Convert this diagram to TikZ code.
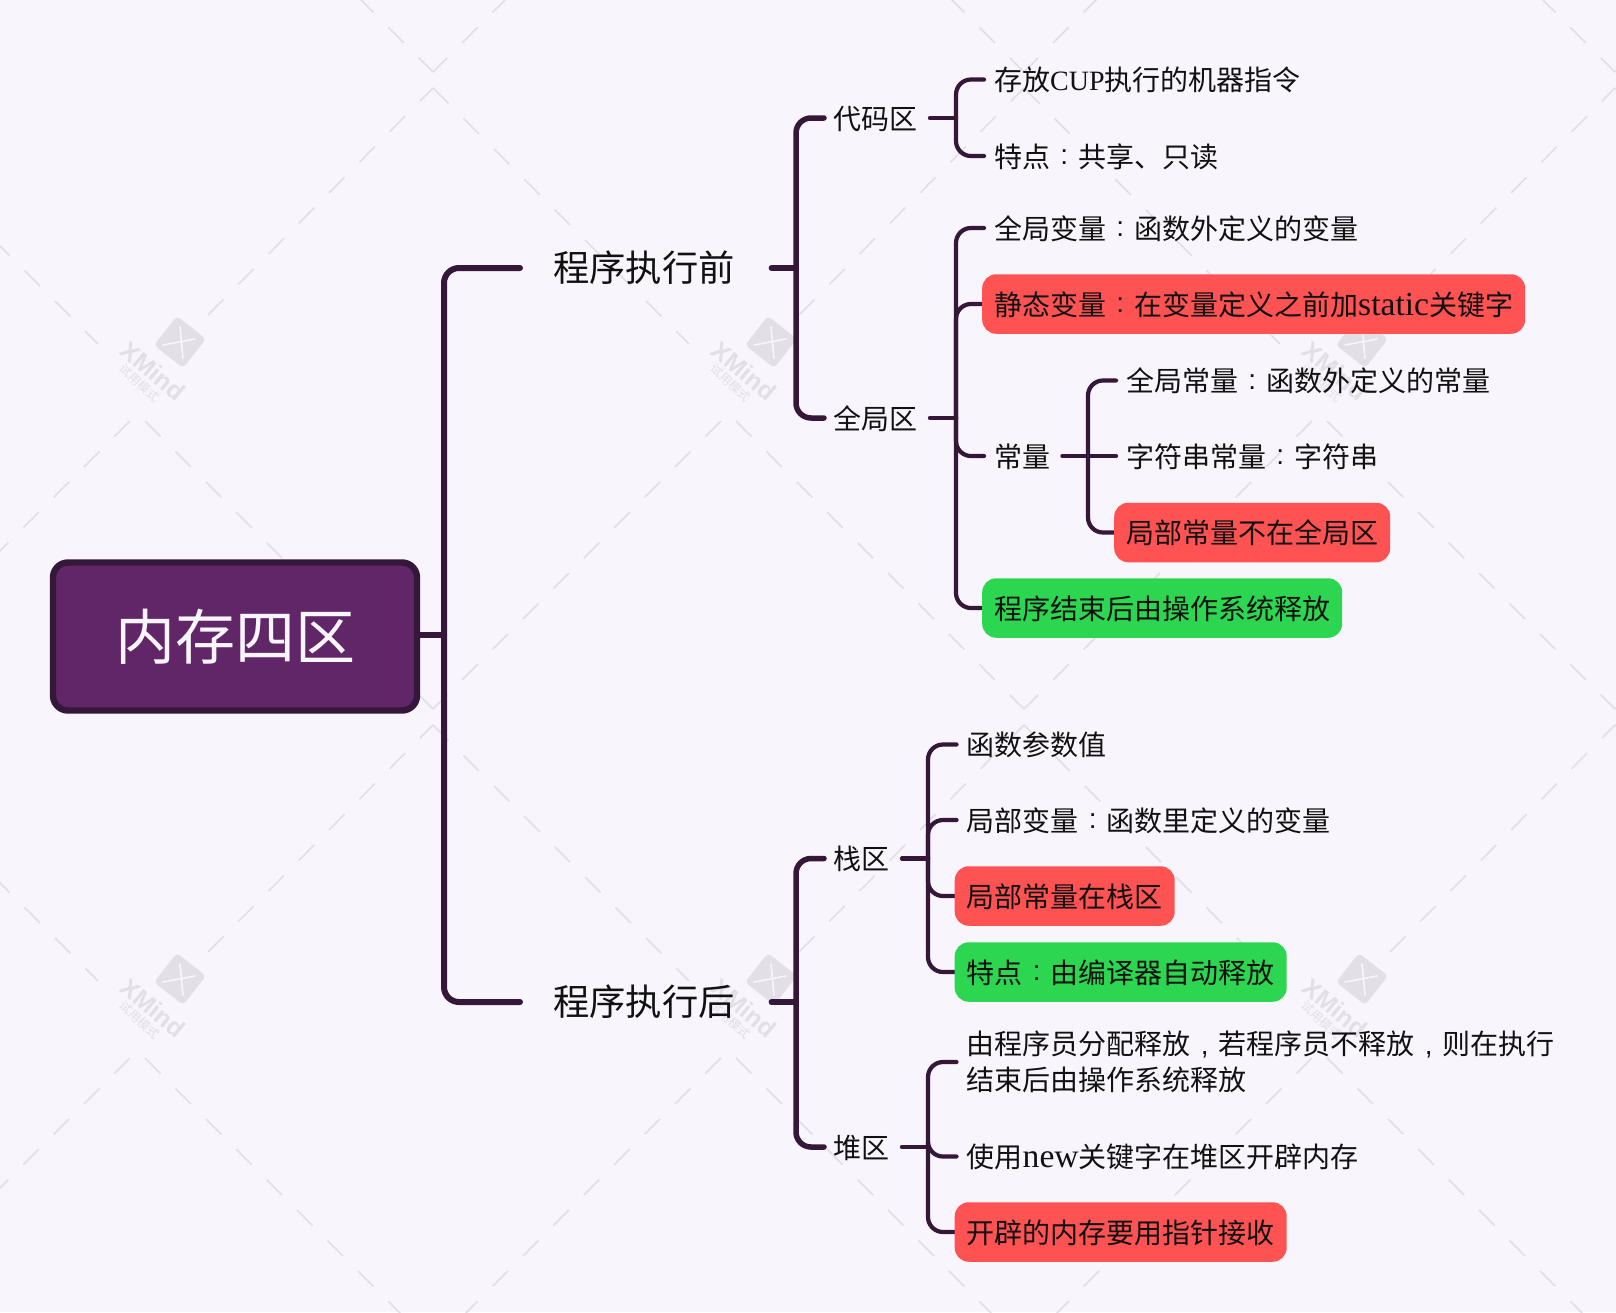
\documentclass[tikz,border=0pt]{standalone}
\usepackage{fontspec}
\setmainfont{Noto Sans CJK SC}
\newfontfamily\latserif{Liberation Serif}
\newfontfamily\wmsans{Liberation Sans}
\newcommand{\cc}{\makebox[1em][c]{\raisebox{.1em}{\wmsans :}}}
\newcommand{\cm}{\makebox[1em][c]{\wmsans ,}}
\newcommand{\lowlat}[1]{{\latserif\fontsize{33.6}{36}\selectfont #1}}
\newcommand{\uplat}[1]{{\latserif #1}}
\definecolor{bgc}{HTML}{F9F5FC}
\definecolor{wmc}{HTML}{E3DFE6}
\definecolor{linec}{HTML}{35173A}
\definecolor{rootc}{HTML}{612667}
\definecolor{redc}{HTML}{FF5252}
\definecolor{greenc}{HTML}{2DD650}
\definecolor{txtc}{HTML}{111111}
\pgfdeclarelayer{background}
\pgfsetlayers{background,main}
\tikzset{
 wmdash/.style={draw=wmc,line width=1.6pt,dash pattern=on 22pt off 21pt},
 l1/.style={draw=linec,line width=6pt,line cap=round,rounded corners=15pt},
 l2/.style={draw=linec,line width=5.5pt,line cap=round,rounded corners=15pt},
 l3/.style={draw=linec,line width=4.2pt,line cap=round,rounded corners=15pt},
 rootbox/.style={draw=linec,fill=rootc,line width=6.4pt,rounded corners=15pt,text=bgc,font=\fontsize{60}{62}\selectfont,minimum width=364pt,minimum height=148pt,inner sep=0pt},
 major/.style={anchor=west,text=txtc,font=\fontsize{36.3}{40}\selectfont,inner xsep=33pt,inner ysep=4pt},
 topic/.style={anchor=west,text=txtc,font=\fontsize{28}{36}\selectfont,inner xsep=10pt,inner ysep=4pt,text height=26pt,text depth=3.4pt},
 subject/.style={topic,inner xsep=9pt},
 pill/.style={topic,rounded corners=14pt,inner xsep=12pt,minimum height=59.5pt},
 redpill/.style={pill,fill=redc},
 greenpill/.style={pill,fill=greenc},
}
\begin{document}
\begin{tikzpicture}[x=1pt,y=-1pt]
\useasboundingbox (0,0) rectangle (1616,1312);
\begin{pgfonlayer}{background}
\fill[bgc] (0,0) rectangle (1616,1312);
\begin{scope}
\clip (0,0) rectangle (1616,1312);
\foreach \i in {-1,0,1,2}{\foreach \j in {-1,0,1}{
 \begin{scope}[shift={({591*\i},{637*\j})}]
 \draw[wmdash] (208,315) -- (433,88);
 \draw[wmdash] (433,88) -- (689,344);
 \draw[wmdash] (736,421) -- (1024,709);
 \draw[wmdash] (721,421) -- (433,709);
 \node[name=wmlogo\i\j,fill=wmc,rounded corners=4pt,rotate=-38,minimum size=37pt,inner sep=0pt] at (180,342) {};
 \draw[bgc,line width=1.6pt,line cap=round] (180,327) -- (183,358);
 \draw[bgc,line width=1.6pt,line cap=round] (163,345) -- (195,339);
 \node[name=wmname\i\j,rotate=-40,text=wmc,font=\wmsans\bfseries\fontsize{25}{25}\selectfont,inner sep=0pt] at (153,371) {XMind};
 \node[name=wmsub\i\j,rotate=-43,text=wmc,font=\fontsize{12.3}{13}\selectfont,inner sep=0pt] at (140,383) {试用模式};
 \end{scope}
}}
\end{scope}
\end{pgfonlayer}

% nodes
\node[rootbox] (root) at (235,636.5) {\raisebox{3.5pt}{内存四区}};
\node[major] (before) at (520,268) {程序执行前};
\node[major] (after) at (520,1002) {程序执行后};

\node[subject] (code) at (824,118) {代码区};
\node[subject] (global) at (824,418) {全局区};
\node[subject] (stack) at (824,858.5) {栈区};
\node[subject] (heap) at (824,1147) {堆区};

\node[topic] (c1) at (984,79.5) {存放\uplat{CUP}执行的机器指令};
\node[topic] (c2) at (984,156) {特点\cc 共享、只读};

\node[topic] (g1) at (984,228) {全局变量\cc 函数外定义的变量};
\node[redpill] (g2) at (982,304) {静态变量\cc 在变量定义之前加\lowlat{static}关键字};
\node[topic] (g3) at (984,456) {常量};
\node[greenpill] (g4) at (982,608) {程序结束后由操作系统释放};

\node[topic] (k1) at (1116,380.5) {全局常量\cc 函数外定义的常量};
\node[topic] (k2) at (1116,456) {字符串常量\cc 字符串};
\node[redpill] (k3) at (1114,532.5) {局部常量不在全局区};

\node[topic] (s1) at (956.5,744.5) {函数参数值};
\node[topic] (s2) at (956.5,820) {局部变量\cc 函数里定义的变量};
\node[redpill] (s3) at (954.5,896) {局部常量在栈区};
\node[greenpill] (s4) at (954.5,972) {特点\cc 由编译器自动释放};

\node[topic,align=left,text height=,text depth=] (h1) at (956.5,1062) {由程序员分配释放\cm 若程序员不释放\cm 则在执行\\结束后由操作系统释放};
\node[topic] (h2) at (956.5,1156.5) {使用\lowlat{new}关键字在堆区开辟内存};
\node[redpill] (h3) at (954.5,1232) {开辟的内存要用指针接收};

% bus positions
\coordinate (bus1) at (444,0);
\coordinate (bus2) at (796,0);
\coordinate (bus3) at (956,0);
\coordinate (bus4) at (1088,0);
\coordinate (bus5) at (928,0);
\coordinate (rootout) at ([yshift=1.5pt]root.east);

\begin{pgfonlayer}{background}
\draw[l1] (rootout) -- (bus1 |- rootout);
\draw[l1] (bus1 |- rootout) |- (before.west);
\draw[l1] (bus1 |- rootout) |- (after.west);

\draw[l2] ([xshift=3.5pt]before.east) -- (bus2 |- before.east);
\draw[l2] (bus2 |- before.east) |- (code.west);
\draw[l2] (bus2 |- before.east) |- (global.west);

\draw[l2] ([xshift=3.5pt]after.east) -- (bus2 |- after.east);
\draw[l2] (bus2 |- after.east) |- (stack.west);
\draw[l2] (bus2 |- after.east) |- (heap.west);

\draw[l3] ([xshift=3.5pt]code.east) -- (bus3 |- code.east);
\draw[l3] (bus3 |- code.east) |- (c1.west);
\draw[l3] (bus3 |- code.east) |- (c2.west);

\draw[l3] ([xshift=3.5pt]global.east) -- (bus3 |- global.east);
\draw[l3] (bus3 |- global.east) |- (g1.west);
\draw[l3] (bus3 |- global.east) |- (g2.west);
\draw[l3] (bus3 |- global.east) |- (g3.west);
\draw[l3] (bus3 |- global.east) |- (g4.west);

\draw[l3] ([xshift=2pt]g3.east) -- (bus4 |- g3.east);
\draw[l3] (bus4 |- g3.east) |- (k1.west);
\draw[l3] (bus4 |- g3.east) -- (k2.west);
\draw[l3] (bus4 |- g3.east) |- (k3.west);

\draw[l3] ([xshift=3.5pt]stack.east) -- (bus5 |- stack.east);
\draw[l3] (bus5 |- stack.east) |- (s1.west);
\draw[l3] (bus5 |- stack.east) |- (s2.west);
\draw[l3] (bus5 |- stack.east) |- (s3.west);
\draw[l3] (bus5 |- stack.east) |- (s4.west);

\draw[l3] ([xshift=3.5pt]heap.east) -- (bus5 |- heap.east);
\draw[l3] (bus5 |- heap.east) |- (h1.west);
\draw[l3] (bus5 |- heap.east) |- (h2.west);
\draw[l3] (bus5 |- heap.east) |- (h3.west);
\end{pgfonlayer}
\end{tikzpicture}
\end{document}
